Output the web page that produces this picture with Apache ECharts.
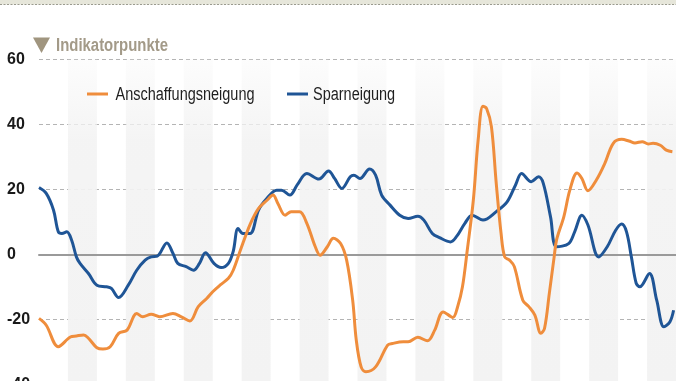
<!DOCTYPE html>
<html>
<head>
<meta charset="utf-8">
<script src="https://cdn.jsdelivr.net/npm/echarts@6/dist/echarts.min.js"></script>
<style>
html,body{margin:0;padding:0;background:#fff;}
#c{width:676px;height:381px;}
</style>
</head>
<body>
<div id="c"></div>
<script>
// Month index (0 = start of the first shaded year block) and values in indicator points
const yTicks = [-40, -20, 0, 20, 40, 60];
const seriesNames = ['Anschaffungsneigung', 'Sparneigung'];
const seriesColors = ['#ef8d3c', '#1f5596'];
const unitTitle = 'Indikatorpunkte';

const sparMonths = [0,3,6,8,9.5,11.5,13.5,15.5,17,20.5,24,28,30,33,37,40.5,44,46.5,49,53,55.5,57.5,61,64,66.5,69,72.5,75.5,78.5,80.5,82.5,84.5,87.5,91,94.5,98.5,100.5,104,107,111,116,120,122.5,125.5,129,130.5,133,137,139.5,142,145.5,149.5,153,157,159.5,163,166,170.5,173,176.5,179.5,184,189.5,194,197.5,200,204,207,209,212,214.5,219.5,222,225,227.5,232,235.5,239,241.5,243.5,245.5,247.5,249,253,256,259,261.5,263];
const sparValues = [20.6,18.8,13.7,7.0,6.5,7.0,4.5,-0.7,-2.7,-5.8,-9.4,-9.9,-10.4,-13.2,-9.4,-4.8,-1.7,-0.7,-0.5,3.6,0.4,-2.7,-3.7,-4.8,-2.7,0.6,-2.7,-4.0,-2.7,1.0,8.0,6.5,6.5,13.7,17.3,19.8,19.8,18.3,21.4,24.9,23.2,25.7,23.4,20.3,23.9,24.4,23.4,26.3,24.4,18.3,15.2,12.1,11.1,11.8,10.6,6.5,5.2,3.9,5.5,9.6,12.1,10.6,13.2,16.2,21.4,24.9,22.4,23.9,21.9,11.6,2.4,3.4,7.0,12.1,9.1,-0.7,2.4,7.5,9.4,7.0,-0.7,-8.8,-9.9,-5.8,-14.0,-22.2,-20.6,-17.1];

const anschMonths = [0,3,8,13,15.5,18.5,20.5,24,26.5,29.5,33,36.5,40.5,43,46.5,50,55.5,59,62.5,66,69.5,72,75,78.5,80.5,83.5,87.5,91,94.5,97,99,102,104.5,108,111,114.5,116.5,119.5,122,125,127.5,130,131.5,133.5,135.5,139.5,144.5,146.5,151,153,157,161,164,167.5,171.5,173.5,175.5,177.5,180,182,184,185.5,187.5,189.5,191.5,193,195,197,200.5,203,205.5,208,209.5,211.5,213.5,214.5,217.5,220,223,225,227.5,231,234.5,238,241.5,244.5,247,250,252.5,254.5,257.5,260,262.5];
const anschValues = [-19.6,-21.7,-28.3,-25.3,-25.0,-24.7,-25.7,-28.6,-29.0,-28.3,-24.2,-23.2,-18.1,-19.1,-18.3,-19.1,-18.1,-19.1,-20.4,-16.0,-13.5,-11.4,-9.4,-7.3,-4.8,1.4,9.3,14.2,16.7,18.3,15.7,12.1,13.2,13.2,9.6,2.4,-0.2,2.4,5.0,3.4,-1.7,-14.0,-26.3,-34.5,-36.0,-34.5,-27.8,-27.3,-26.8,-26.8,-25.4,-26.5,-23.2,-17.6,-19.3,-16.0,-9.9,1.4,16.7,35.2,45.6,44.9,39.3,21.9,6.5,-0.7,-1.7,-3.7,-14.0,-16.0,-18.6,-24.2,-22.7,-11.9,-0.7,4.5,11.6,19.8,25.1,23.4,19.6,22.9,28.0,34.2,35.4,34.9,34.3,34.7,34.0,34.2,33.6,32.1,31.6];

const zip = (a, b) => a.map((v, i) => [v, b[i]]);

// condensed look: regular Liberation Sans squeezed horizontally to the reference widths
const FAM = '"Liberation Sans", Arial, sans-serif';
const ctx = document.createElement('canvas').getContext('2d');
function textW(font, s) { ctx.font = font; return ctx.measureText(s).width; }
const legendFont = 'normal 18px ' + FAM;
const titleFont = 'bold 18px ' + FAM;
const legendScale = 139 / textW(legendFont, seriesNames[0]);
const titleScale = 112 / textW(titleFont, unitTitle);

const chart = echarts.init(document.getElementById('c'), null, {renderer: 'canvas'});
const bandGray = new echarts.graphic.LinearGradient(0, 0, 0, 1, [
  {offset: 0, color: 'rgba(243,243,243,0.2)'},
  {offset: 0.25, color: 'rgba(243,243,243,0.9)'},
  {offset: 1, color: 'rgba(243,243,243,1)'}
]);

function legendItem(lineX, textX, name, color) {
  return [
    {type: 'rect', z: 100, shape: {x: lineX, y: 92.5, width: 21, height: 3}, style: {fill: color}, silent: true},
    {type: 'text', z: 100, x: textX, y: 95, scaleX: legendScale, originX: 0, originY: 0,
     style: {x: 0, y: 0, text: name, font: legendFont, fill: '#1e1e1e', verticalAlign: 'middle', align: 'left'}, silent: true}
  ];
}

chart.setOption({
  animation: false,
  backgroundColor: '#ffffff',
  grid: {left: 39, right: 0, top: 59.3, height: 325.5, containLabel: false, outerBoundsMode: 'none'},
  xAxis: {
    type: 'value', min: 0, max: 264, interval: 12,
    axisLabel: {show: false}, axisTick: {show: false},
    axisLine: {show: true, onZero: true, lineStyle: {color: '#9a9a9a', width: 2}},
    splitLine: {show: false},
    splitArea: {show: true, areaStyle: {color: ['rgba(255,255,255,0)', bandGray]}}
  },
  yAxis: {
    type: 'value', min: yTicks[0], max: yTicks[yTicks.length - 1], interval: 20,
    axisLine: {show: false}, axisTick: {show: false},
    axisLabel: {
      align: 'left', margin: 32, color: '#1a1a1a', fontWeight: 'bold',
      fontSize: 16, fontFamily: FAM
    },
    splitLine: {lineStyle: {color: '#b4b4b4', type: [4, 3], width: 1}}
  },
  graphic: [
    {type: 'rect', z: 100, shape: {x: 0, y: 0, width: 676, height: 4.5}, style: {fill: '#e6e6da'}, silent: true},
    {type: 'line', z: 100, shape: {x1: 0, y1: 4.5, x2: 676, y2: 4.5}, style: {stroke: '#9a9a8e', lineWidth: 1.2, lineDash: [2, 1.5]}, silent: true},
    {type: 'polygon', z: 100, shape: {points: [[33, 37.5], [50, 37.5], [41.5, 53]]}, style: {fill: '#a0957f'}, silent: true},
    {type: 'text', z: 100, x: 56, y: 46.5, scaleX: titleScale, originX: 0, originY: 0,
     style: {x: 0, y: 0, text: unitTitle, fill: '#a39a88', font: titleFont, verticalAlign: 'middle', align: 'left'}, silent: true}
  ].concat(legendItem(87, 115.5, seriesNames[0], seriesColors[0]),
           legendItem(287, 313, seriesNames[1], seriesColors[1])),
  series: [
    {name: seriesNames[1], type: 'line', data: zip(sparMonths, sparValues), showSymbol: false,
     smooth: 0.35, lineStyle: {color: seriesColors[1], width: 3}, itemStyle: {color: seriesColors[1]}, z: 3},
    {name: seriesNames[0], type: 'line', data: zip(anschMonths, anschValues), showSymbol: false,
     smooth: 0.35, lineStyle: {color: seriesColors[0], width: 3}, itemStyle: {color: seriesColors[0]}, z: 4}
  ]
});
</script>
</body>
</html>
